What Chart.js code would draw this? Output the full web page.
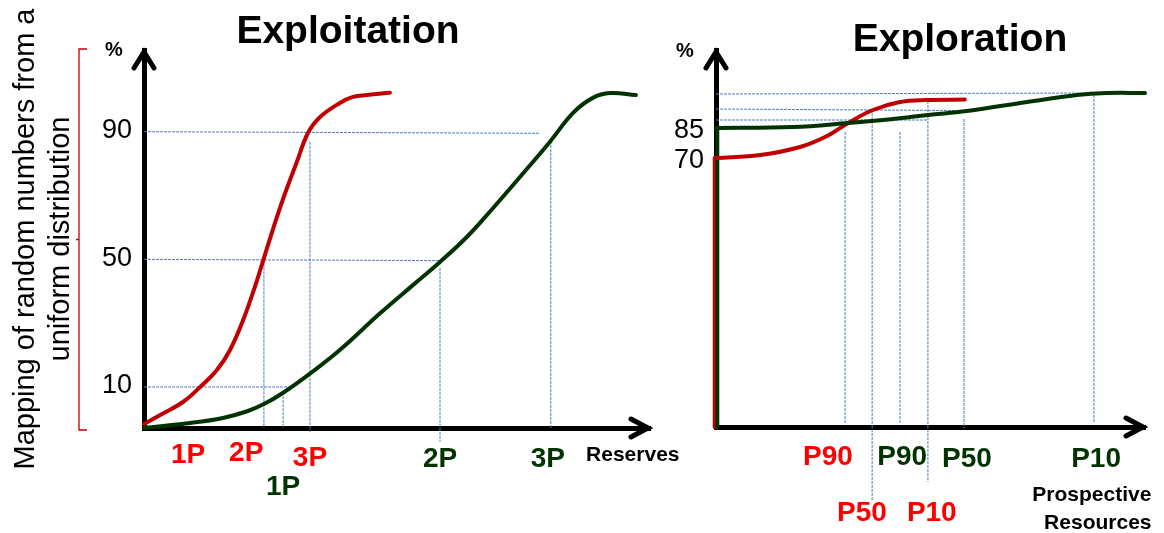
<!DOCTYPE html>
<html><head><meta charset="utf-8">
<script src="https://cdn.jsdelivr.net/npm/chart.js@4.4.1/dist/chart.umd.min.js"></script>
<style>
html,body{margin:0;padding:0;background:#fff;overflow:hidden;width:1164px;height:533px}
canvas{position:absolute;left:0;top:0}
</style></head><body>
<canvas id="left" width="1164" height="533"></canvas>
<canvas id="right" width="1164" height="533"></canvas>
<script>
// ---------- DATA: Exploitation (left panel) ----------
const exploitTicks = [10, 50, 90];
const exploitRedX   = [0, 3.2, 7.7, 11.1, 14.4, 17.0, 19.6, 21.9, 23.7, 25.5, 27.5, 30.2, 32.4, 34.8, 38.7, 41.3, 44.1, 48.6];
const exploitRedY   = [-1.6, 1.2, 5.3, 10.0, 15.3, 21.6, 31.0, 41.3, 50.4, 59.5, 69.0, 80.5, 89.6, 94.6, 99.0, 100.9, 101.5, 102.2];
const exploitGreenX = [0, 9.1, 15.6, 20.4, 23.9, 27.5, 32.8, 38.7, 46.6, 53.2, 58.5, 63.8, 69.0, 74.3, 80.2, 84.8, 88.7, 92.1, 97.2];
const exploitGreenY = [-2.85, -1.3, 0.3, 2.4, 4.8, 8.2, 14.2, 21.6, 33.0, 42.0, 49.2, 57.0, 66.1, 75.8, 86.8, 95.9, 100.6, 102.1, 101.5];
const exploitGuideX = [[0,78.1],[0,58.3],[0,28.9],[23.7,23.7],[27.5,27.5],[32.8,32.8],[58.5,58.5],[80.4,80.4]];
const exploitGuideY = [[90,89.5],[50,49.6],[10,10],[50,-2.85],[8.4,-2.85],[86.8,-4.1],[47.3,-7.2],[87.1,-2.85]];
const exploitLabels = ['1P','2P','3P','1P','2P','3P'];
const exploitLabelSeries = ['red','red','red','green','green','green'];
const exploitLabelX = [8.7, 20.2, 32.8, 27.5, 58.5, 79.8];
const exploitLabelY = [-11.3, -10.7, -12.3, -21.3, -12.6, -12.6];
const exploitAxisName = ['Reserves'];
const exploitAxisNameX = [96.6];
const exploitAxisNameY = [-11.3];

// ---------- DATA: Exploration (right panel) ----------
const exploreTicks = [70, 85];
const exploreRedX   = [0, 10.3, 19.6, 25.9, 30.8, 36.6, 42.9, 49.2, 58.0];
const exploreRedY   = [70, 71.5, 75.5, 81.0, 87.5, 94.0, 98.0, 99.0, 99.2];
const exploreGreenX = [0, 17.9, 30.8, 41.3, 49.4, 58.5, 72.5, 84.1, 91.1, 100];
const exploreGreenY = [85, 85.5, 87.5, 89.5, 91.5, 93.5, 98.0, 101.5, 102.5, 102.5];
const exploreRedStemX = [-0.3, -0.3];
const exploreRedStemY = [-64.5, 70];
const exploreGreenStemX = [0.3, 0.3];
const exploreGreenStemY = [-64.5, 85];
const exploreGuideX = [[0,90.7],[0,58.7],[0,49.4],[30.1,30.1],[36.4,36.4],[42.9,42.9],[49.4,49.4],[57.8,57.8],[88.1,88.1]];
const exploreGuideY = [[102,102.5],[94.5,93.7],[89,89],[83,-62.5],[92.5,-101],[83,-62.5],[98.5,-92],[89.5,-65],[101.5,-62]];
const exploreLabels = ['P90','P90','P50','P10','P50','P10'];
const exploreLabelSeries = ['red','green','green','green','red','red'];
const exploreLabelX = [26.1, 43.4, 58.5, 88.6, 34.0, 50.3];
const exploreLabelY = [-79.5, -79.5, -80.5, -80.5, -107.5, -107.5];
const exploreAxisName = ['Prospective', 'Resources'];
const exploreAxisNameX = [87.6, 89.0];
const exploreAxisNameY = [-98.5, -112.5];

const yTitleLines = ['Mapping of random numbers from a', 'uniform distribution'];

// ---------- STYLE / LAYOUT ----------
const FONT = '"Liberation Sans", Arial, Helvetica, sans-serif';
const COLORS = { red: '#c00000', green: '#003300', redText: '#ff0000', greenText: '#003300', guide: '#4a7ebb' };
Chart.defaults.font.family = FONT;

const zip = (xs, ys) => xs.map((x, i) => ({ x, y: ys[i] }));

function curve(xs, ys, color, smooth) {
  return { data: zip(xs, ys), borderColor: color, borderWidth: 4, pointRadius: 0, fill: false,
    tension: smooth ? 0.4 : 0, clip: false, borderCapStyle: 'round', borderJoinStyle: 'round' };
}
function guides(gx, gy) {
  return gx.map((xs, i) => ({ data: zip(xs, gy[i]), borderColor: COLORS.guide, borderWidth: 1,
    borderDash: [3, 1], pointRadius: 0, fill: false, tension: 0, clip: false }));
}
function labelItems(names, series, xs, ys) {
  return names.map((t, i) => ({ text: t, x: xs[i], y: ys[i],
    color: series[i] === 'red' ? COLORS.redText : COLORS.greenText, font: 'bold 28px ' + FONT }));
}
function axisNameItems(names, xs, ys) {
  return names.map((t, i) => ({ text: t, x: xs[i], y: ys[i], color: '#000', font: 'bold 21px ' + FONT }));
}

const deco = {
  id: 'deco',
  afterDraw(chart, args, o) {
    const { ctx, chartArea: a } = chart;
    const xs = chart.scales.x, ys = chart.scales.y;
    ctx.save();
    // arrow heads
    ctx.strokeStyle = '#000'; ctx.lineWidth = 5; ctx.lineCap = 'round'; ctx.lineJoin = 'miter';
    ctx.beginPath();
    ctx.moveTo(a.left - 10, a.top + 18); ctx.lineTo(a.left, a.top + 2); ctx.lineTo(a.left + 10, a.top + 18);
    ctx.stroke();
    ctx.beginPath();
    ctx.moveTo(a.right - 19, a.bottom - 9); ctx.lineTo(a.right - 2, a.bottom); ctx.lineTo(a.right - 19, a.bottom + 9);
    ctx.stroke();
    // title
    ctx.fillStyle = '#000';
    ctx.font = 'bold 39px ' + FONT; ctx.textAlign = 'center'; ctx.textBaseline = 'alphabetic';
    ctx.fillText(o.title, o.titlePos[0], o.titlePos[1]);
    // percent sign
    ctx.font = 'bold 20px ' + FONT; ctx.textBaseline = 'middle';
    ctx.fillText('%', a.left + o.pctOffset[0], a.top + o.pctOffset[1]);
    // category labels at data positions
    o.labels.forEach(l => {
      ctx.font = l.font; ctx.fillStyle = l.color; ctx.textAlign = 'center'; ctx.textBaseline = 'middle';
      ctx.fillText(l.text, xs.getPixelForValue(l.x), ys.getPixelForValue(l.y));
    });
    // rotated y-title and bracket
    if (o.yTitle) {
      ctx.fillStyle = '#000'; ctx.font = '29px ' + FONT; ctx.textAlign = 'center'; ctx.textBaseline = 'alphabetic';
      const cy = (a.top + a.bottom) / 2;
      o.yTitle.forEach((line, i) => {
        ctx.save(); ctx.translate(o.yTitleX[i], cy); ctx.rotate(-Math.PI / 2);
        ctx.fillText(line, 0, 0); ctx.restore();
      });
      const bx = o.bracketX, top = a.top - 1, bot = a.bottom + 2, mid = (top + bot) / 2;
      ctx.strokeStyle = '#c00000'; ctx.lineWidth = 1.3; ctx.lineCap = 'butt';
      ctx.beginPath();
      ctx.moveTo(bx + 8, top); ctx.lineTo(bx, top); ctx.lineTo(bx, bot); ctx.lineTo(bx + 8, bot);
      ctx.moveTo(bx, mid); ctx.lineTo(bx - 3, mid);
      ctx.stroke();
    }
    ctx.restore();
  }
};

function makeChart(id, cfg) {
  return new Chart(document.getElementById(id), {
    type: 'line',
    data: { datasets: cfg.datasets },
    options: {
      responsive: false, animation: false, events: [],
      layout: { padding: cfg.padding },
      plugins: { legend: { display: false }, tooltip: { enabled: false }, title: { display: false }, deco: cfg.deco },
      scales: {
        x: { type: 'linear', min: 0, max: 100, grid: { display: false, drawTicks: false }, ticks: { display: false },
             border: { display: true, color: '#000', width: 5 }, afterFit: s => { s.height = 0; } },
        y: { type: 'linear', min: cfg.yMin, max: cfg.yMax,
             afterBuildTicks: s => { s.ticks = cfg.ticks.map(v => ({ value: v })); },
             ticks: { color: '#000', font: { size: 27, family: FONT }, padding: 12, labelOffset: cfg.labelOffset,
                      callback: v => String(v) },
             grid: { display: false, drawTicks: false },
             border: { display: true, color: '#000', width: 5 },
             afterFit: s => { s.width = cfg.yWidth; } }
      }
    },
    plugins: [deco]
  });
}

makeChart('left', {
  padding: { left: 0, top: 50, right: 514, bottom: 105 },
  yWidth: 144, yMin: -2.85, yMax: 115.6, ticks: exploitTicks, labelOffset: -1,
  datasets: [
    curve(exploitRedX, exploitRedY, COLORS.red, true),
    curve(exploitGreenX, exploitGreenY, COLORS.green, true),
    ...guides(exploitGuideX, exploitGuideY)
  ],
  deco: {
    title: 'Exploitation', titlePos: [348, 43], pctOffset: [-30, 0],
    labels: [...labelItems(exploitLabels, exploitLabelSeries, exploitLabelX, exploitLabelY),
             ...axisNameItems(exploitAxisName, exploitAxisNameX, exploitAxisNameY)],
    yTitle: yTitleLines, yTitleX: [33.7, 69.4], bracketX: 79
  }
});

makeChart('right', {
  padding: { left: 660, top: 50, right: 19, bottom: 106 },
  yWidth: 56, yMin: -64.5, yMax: 124, ticks: exploreTicks, labelOffset: 3,
  datasets: [
    curve(exploreGreenX, exploreGreenY, COLORS.green, true),
    curve(exploreRedX, exploreRedY, COLORS.red, true),
    curve(exploreGreenStemX, exploreGreenStemY, COLORS.green, false),
    curve(exploreRedStemX, exploreRedStemY, COLORS.red, false),
    ...guides(exploreGuideX, exploreGuideY)
  ],
  deco: {
    title: 'Exploration', titlePos: [960, 51], pctOffset: [-31, 1],
    labels: [...labelItems(exploreLabels, exploreLabelSeries, exploreLabelX, exploreLabelY),
             ...axisNameItems(exploreAxisName, exploreAxisNameX, exploreAxisNameY)]
  }
});
</script></body></html>
